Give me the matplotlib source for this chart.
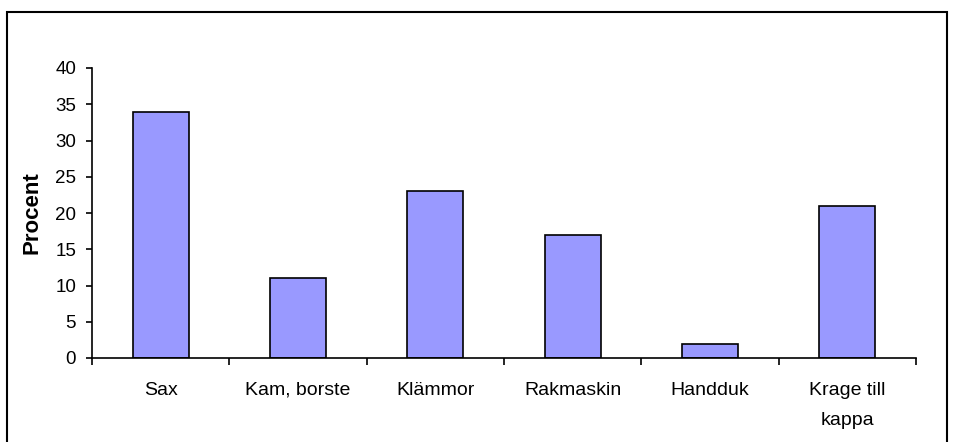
import matplotlib
matplotlib.use("Agg")
import matplotlib.pyplot as plt
from matplotlib.patches import Rectangle
import numpy as np

categories = ["Sax", "Kam, borste", "Klämmor", "Rakmaskin", "Handduk", "Krage till\nkappa"]
values = [34, 11, 23, 17, 2, 21]
yticks = [0, 5, 10, 15, 20, 25, 30, 35, 40]

plt.rcParams['font.family'] = ['Liberation Sans', 'DejaVu Sans']

fig = plt.figure(figsize=(9.55, 4.42), dpi=100)
fig.patches.append(Rectangle((7/955, -0.1), 940/955, 1.1 - 12/442, transform=fig.transFigure,
                             fill=False, edgecolor='black', linewidth=1.5, zorder=0))
ax = fig.add_axes([92/955, 1 - 358/442, 824/955, 290/442])

x = np.arange(len(categories))
ax.bar(x, values, width=0.41, color='#9999FF', edgecolor='black', linewidth=1.2)

ax.set_xlim(-0.5, len(categories) - 0.5)
ax.set_ylim(0, 40)
ax.set_yticks(yticks)
ax.set_yticklabels([str(t) for t in yticks], fontsize=13.5)
ax.set_xticks(np.arange(-0.5, len(categories), 1.0))
ax.set_xticklabels([])
ax.set_xticks(x, minor=True)
labels = ax.set_xticklabels(categories, minor=True, fontsize=14)
for lab in labels:
    if "\n" in lab.get_text():
        lab.set_linespacing(2.0)
ax.tick_params(axis='x', which='major', direction='out', length=5, width=1.2)
ax.tick_params(axis='x', which='minor', length=0, pad=17)
ax.tick_params(axis='y', direction='out', length=4.5, width=1.2, pad=7)

for s in ['top', 'right']:
    ax.spines[s].set_visible(False)
for s in ['left', 'bottom']:
    ax.spines[s].set_linewidth(1.2)

ax.set_ylabel("Procent", fontsize=16, fontweight='bold', labelpad=9)

fig.savefig("out.png", dpi=100)
